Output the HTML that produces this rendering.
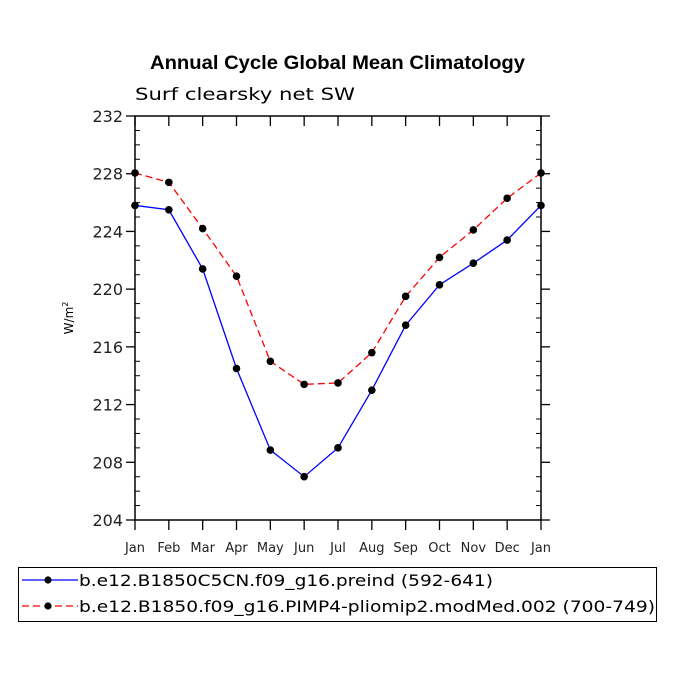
<!DOCTYPE html>
<html><head><meta charset="utf-8"><style>
body{margin:0;background:#fff}
svg{display:block;font-family:"DejaVu Sans","Liberation Sans",sans-serif}
</style></head><body>
<svg id="chart" width="675" height="675" viewBox="0 0 675 675">
<text x="150" y="69" textLength="375" lengthAdjust="spacingAndGlyphs" font-family="Liberation Sans,sans-serif" font-weight="bold" font-size="19">Annual Cycle Global Mean Climatology</text>
<text x="135" y="100" textLength="220" lengthAdjust="spacingAndGlyphs" font-size="17">Surf clearsky net SW</text>
<text transform="translate(73,318) rotate(-90)" text-anchor="middle" font-size="12">W/m<tspan dy="-5" font-size="8">2</tspan></text>
<g id="axes"></g>
<g id="series"></g>
<g>
<rect x="18.5" y="567.5" width="638" height="54" fill="none" stroke="#000" stroke-width="1"/>
<line x1="22" y1="580" x2="78" y2="580" stroke="#00f" stroke-width="1.3"/>
<circle cx="48" cy="580" r="3.6" fill="#000"/>
<text x="79" y="586" textLength="414" lengthAdjust="spacingAndGlyphs" font-size="16">b.e12.B1850C5CN.f09_g16.preind (592-641)</text>
<line x1="22" y1="606" x2="78" y2="606" stroke="#f00" stroke-width="1.3" stroke-dasharray="7,4"/>
<circle cx="48" cy="606" r="3.6" fill="#000"/>
<text x="79" y="612" textLength="576" lengthAdjust="spacingAndGlyphs" font-size="16">b.e12.B1850.f09_g16.PIMP4-pliomip2.modMed.002 (700-749)</text>
</g>
</svg>
<script>
const months=["Jan","Feb","Mar","Apr","May","Jun","Jul","Aug","Sep","Oct","Nov","Dec","Jan"];
const preind=[225.8,225.5,221.4,214.5,208.85,207.0,209.0,213.0,217.5,220.3,221.8,223.4,225.8];
const pliomip=[228.05,227.4,224.2,220.9,215.0,213.4,213.5,215.6,219.5,222.2,224.1,226.3,228.05];
const yTicks=[204,208,212,216,220,224,228,232];
const NS="http://www.w3.org/2000/svg";
const L=135,R=541,T=116,B=520,ymin=204,ymax=232;
const xs=i=>L+(R-L)*i/(months.length-1);
const ys=v=>B-(v-ymin)/(ymax-ymin)*(B-T);
function mk(tag,attrs,parent){const e=document.createElementNS(NS,tag);for(const k in attrs)e.setAttribute(k,attrs[k]);parent.appendChild(e);return e;}
const ax=document.getElementById('axes');
const frame=mk('rect',{x:L,y:T,width:R-L,height:B-T,fill:'none',stroke:'#000','stroke-width':1.5},ax);


for(let v=ymin;v<=ymax;v++){
  const y=ys(v);
  if((v-ymin)%4===0){
    mk('line',{x1:L-9,y1:y,x2:L,y2:y,stroke:'#000','stroke-width':1.3},ax);
    mk('line',{x1:R,y1:y,x2:R+9,y2:y,stroke:'#000','stroke-width':1.3},ax);
  }else{
    mk('line',{x1:L,y1:y,x2:L+5,y2:y,stroke:'#000','stroke-width':1},ax);
    mk('line',{x1:R-5,y1:y,x2:R,y2:y,stroke:'#000','stroke-width':1},ax);
  }
}
yTicks.forEach(v=>{
  const t=mk('text',{x:L-12,y:ys(v)+6,'text-anchor':'end','font-size':16,fill:'#222'},ax);
  t.textContent=v;
  
  
});
months.forEach((m,i)=>{
  const x=xs(i);
  mk('line',{x1:x,y1:B,x2:x,y2:B+10,stroke:'#000','stroke-width':1.3},ax);
  mk('line',{x1:x,y1:T,x2:x,y2:T+10,stroke:'#000','stroke-width':1.3},ax);
  const t=mk('text',{x:x,y:B+32,'text-anchor':'middle','font-size':13,fill:'#222'},ax);
  t.textContent=m;
  
  
});
const sg=document.getElementById('series');
function series(vals,color,dash,name){
  const p=mk('polyline',{points:vals.map((v,i)=>xs(i)+','+ys(v)).join(' '),fill:'none',stroke:color,'stroke-width':1.3},sg);
  if(dash)p.setAttribute('stroke-dasharray',dash);
  
  
  vals.forEach((v,i)=>{
    const c=mk('circle',{cx:xs(i),cy:ys(v),r:3.8,fill:'#000'},sg);
    
    
  });
}
series(preind,'#00f',null,'preind');
series(pliomip,'#f00','7,4','pliomip');
</script>
</body></html>
